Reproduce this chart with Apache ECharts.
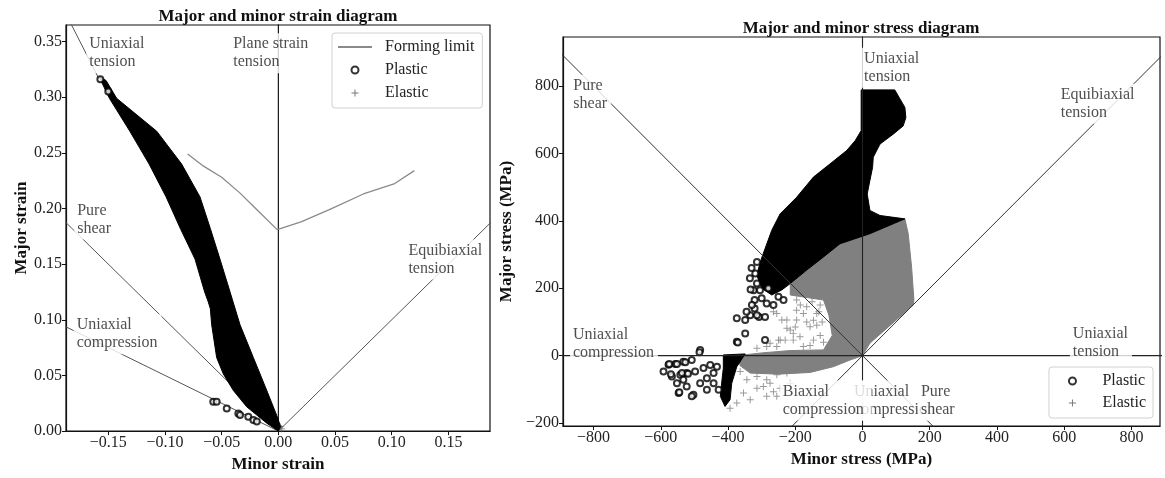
<!DOCTYPE html>
<html><head><meta charset="utf-8">
<script src="https://cdn.jsdelivr.net/npm/echarts@6/dist/echarts.min.js"></script>
<style>html,body{margin:0;padding:0;background:#fff}#c{width:1165px;height:478px}</style>
</head><body><div id="c"></div>
<script>
// ===================== STRAIN DIAGRAM (left) =====================
const strainTicksX = [-0.15, -0.10, -0.05, 0, 0.05, 0.10, 0.15];
const strainTicksY = [0, 0.05, 0.10, 0.15, 0.20, 0.25, 0.30, 0.35];

const formingLimitMinor = [-0.080, -0.066, -0.050, -0.034, -0.020, -0.001, 0.000, 0.020, 0.045, 0.075, 0.102, 0.120];
const formingLimitMajor = [0.249, 0.238, 0.228, 0.214, 0.200, 0.181, 0.180, 0.188, 0.199, 0.213, 0.222, 0.234];

// outline of the dense cloud of plastic points
const strainPlasticCloud = [
  [-0.158, 0.318], [-0.149, 0.2989], [-0.131, 0.2694], [-0.114, 0.2399], [-0.099, 0.2104],
  [-0.086, 0.181], [-0.0735, 0.1545], [-0.065, 0.125], [-0.0618, 0.116], [-0.0600, 0.110],
  [-0.0588, 0.0955], [-0.0544, 0.066], [-0.0485, 0.0513], [-0.0397, 0.0365], [-0.0279, 0.0218],
  [-0.0102, 0.0071], [0.000, 0.000], [0.002, 0.004], [-0.001, 0.013], [-0.0102, 0.0365],
  [-0.022, 0.066], [-0.0338, 0.0955], [-0.0426, 0.125], [-0.0515, 0.1545], [-0.060, 0.182],
  [-0.0691, 0.2104], [-0.0853, 0.2399], [-0.1073, 0.2694], [-0.1426, 0.2989], [-0.152, 0.315]
];
const strainPlasticPoints = [
  [-0.0574, 0.0263], [-0.0544, 0.0263], [-0.0455, 0.0203], [-0.0353, 0.0159], [-0.0338, 0.0144],
  [-0.0265, 0.013], [-0.022, 0.010], [-0.019, 0.0086], [-0.157, 0.316], [-0.150, 0.305]
];
const strainElasticPoints = [[0.0015, 0.004], [0.003, 0.002]];

const strainUniaxialTension = [[-0.159, 0.318], [-0.2, 0.4]];
const strainPlaneStrain = [[0, 0], [0, 0.4]];
const strainPureShear = [[0, 0], [-0.2, 0.2]];
const strainUniaxialCompression = [[0, 0], [-0.2, 0.1]];
const strainEquibiaxial = [[0, 0], [0.2, 0.2]];

const strainLabelTexts = ['Uniaxial\ntension', 'Plane strain\ntension', 'Pure\nshear', 'Uniaxial\ncompression', 'Equibiaxial\ntension'];
const strainLabelAnchors = [[-0.1694, 0.3574], [-0.0424, 0.3574], [-0.180, 0.2081], [-0.1805, 0.1049], [0.1121, 0.1721]];

// ===================== STRESS DIAGRAM (right) =====================
const stressTicksX = [-800, -600, -400, -200, 0, 200, 400, 600, 800];
const stressTicksY = [-200, 0, 200, 400, 600, 800];

const stressElasticCloud = [
  [126, 406], [136, 362], [146, 263], [153, 165], [151, 150], [22, 37], [0, 0],
  [-37, -13], [-87, -33], [-156, -50], [-250, -55], [-334, -52], [-364, -30], [-370, 0],
  [-300, 8], [-215, 15], [-116, 17], [-90, 60], [-100, 120], [-116, 165], [-215, 180],
  [-215, 214], [-140, 280], [-67, 332], [22, 362]
];
const stressPlasticCloud = [
  [-4, 789], [96, 789], [126, 737], [129, 707], [121, 682], [92, 658], [52, 628], [32, 589],
  [30, 559], [22, 520], [14, 480], [22, 431], [52, 416], [126, 406], [22, 362], [-67, 332],
  [-116, 293], [-166, 254], [-215, 214], [-240, 195], [-270, 180], [-300, 200], [-315, 240],
  [-300, 290], [-270, 372], [-245, 421], [-196, 470], [-146, 530], [-97, 569], [-47, 609],
  [-22, 638], [-4, 668]
];
const stressPlasticBlob = [
  [-414, 2], [-349, 5], [-374, -33], [-389, -82], [-394, -131], [-409, -151], [-423, -121],
  [-418, -72], [-414, -37]
];
const stressPlasticPoints = [
  [-314, 278], [-319, 244], [-314, 214], [-324, 194], [-305, 194], [-300, 170], [-285, 155], [-265, 150],
  [-333, 196], [-321, 165], [-321, 140], [-308, 115], [-374, 111], [-349, 106], [-334, 120], [-329, 150],
  [-314, 120], [-290, 115], [-349, 66], [-374, 41], [-290, 46], [-483, 17], [-371, 39], [-335, 230],
  [-330, 260], [-280, 200], [-250, 175], [-235, 165], [-345, 130],
  [-577, -27], [-557, -25], [-533, -18], [-508, -13], [-592, -47], [-567, -62], [-542, -57], [-523, -52],
  [-498, -47], [-473, -37], [-453, -28], [-547, -111], [-523, -92], [-503, -116], [-483, -82], [-463, -67],
  [-443, -52], [-433, -33], [-463, -101], [-443, -82], [-428, -101], [-533, -72], [-552, -82], [-570, -55],
  [-575, -25], [-552, -25], [-527, -20], [-545, -109], [-537, -52], [-519, -54], [-508, -121], [-485, 10]
];
const stressElasticPoints = [
  [-265, 130], [-240, 106], [-225, 81], [-206, 66], [-250, 46], [-230, 46], [-314, 22], [-285, 27],
  [-255, 27], [-255, 125], [-225, 106], [-215, 76], [-245, 46], [-275, 37], [-206, 46],
  [-364, -47], [-344, -72], [-314, -62], [-295, -92], [-275, -82], [-354, -111], [-334, -131], [-374, -141],
  [-394, -156], [-265, -107], [-245, -97], [-314, -97], [-285, -121], [-255, -121], [-225, -52], [-215, -82],
  [-285, -72], [-255, -57], [-225, -42], [-186, -37], [-156, -28], [-136, -23], [-106, -18],
  [-196, 165], [-166, 145], [-136, 125], [-196, 106], [-156, 86], [-186, 56], [-146, 46], [-176, 27],
  [-126, 150], [-176, 125], [-146, 105], [-126, 60], [-196, 135], [-166, 100], [-136, 90], [-116, 40],
  [-156, 30], [-120, 100], [-200, 85], [-185, 150], [-150, 160], [-130, 130]
];

const stressVerticalLine = [[0, -300], [0, 1000]];
const stressHorizontalLine = [[-1000, 0], [1000, 0]];
const stressEquibiaxialLine = [[-300, -300], [1000, 1000]];
const stressPureShearLine = [[-1000, 1000], [300, -300]];

const stressLabelTexts = ['Uniaxial\ntension', 'Pure\nshear', 'Equibiaxial\ntension', 'Uniaxial\ncompression',
  'Uniaxial\ntension', 'Uniaxial\ncompression', 'Biaxial\ncompression', 'Pure\nshear'];
const stressLabelAnchors = [[-4, 914], [-869, 834], [581, 807], [-870, 95], [617, 98], [-34, -74], [-246, -74], [165, -74]];

// ===================== BUILD =====================
const FONT = 'Liberation Serif';
const TXT = '#222';
const PLUS = 'path://M4.3,0h1.4v4.3h4.3v1.4h-4.3v4.3h-1.4v-4.3h-4.3v-1.4h4.3z';
const fmtNum = (d) => (v) => (v < 0 ? '\u2212' : '') + Math.abs(v).toFixed(d);
// label boxes that sit above the lower "Uniaxial compression" one (stress labels 6 and 7)
const LABEL_STYLE_OVERRIDES = { 6: { zlevel: 1, padding: [2, 8, 2, 3] }, 7: { zlevel: 1, padding: [2, 4, 2, 3] } };

function axisCommon(ticks, d) {
  return {
    type: 'value', splitLine: { show: false },
    axisLine: { show: true, onZero: false, lineStyle: { color: '#111', width: 1.2 } },
    axisTick: { show: true, length: 4, customValues: ticks, lineStyle: { color: '#111' } },
    axisLabel: { customValues: ticks, formatter: fmtNum(d), fontFamily: FONT, fontSize: 16, color: TXT, margin: 4 },
    nameTextStyle: { fontFamily: FONT, fontSize: 17, fontWeight: 'bold', color: '#111' }
  };
}
function polygon(name, gi, pts, fill, z) {
  return {
    type: 'custom', name, xAxisIndex: gi, yAxisIndex: gi, z, silent: true,
    data: [pts[0]],
    renderItem: (p, api) => ({ type: 'polygon', shape: { points: pts.map(q => api.coord(q)) },
      style: { fill, stroke: fill, lineWidth: 1 } })
  };
}
function refLine(gi, pts, color, w) {
  return { type: 'line', xAxisIndex: gi, yAxisIndex: gi, data: pts, symbol: 'none', silent: true, z: 5,
    lineStyle: { color, width: w }, clip: true };
}
function labels(gi, texts, anchors, zBase, overrides) {
  return texts.map((t, i) => {
    const o = (overrides && overrides[i]) || {};
    return {
      type: 'scatter', xAxisIndex: gi, yAxisIndex: gi, z: zBase + i, zlevel: o.zlevel || 0, silent: true,
      symbolSize: 0.1, itemStyle: { color: 'transparent' }, data: [anchors[i]],
      label: { show: true, formatter: t, position: [0, 0], align: 'left', verticalAlign: 'top',
        backgroundColor: '#fff', padding: o.padding || [2, 4, 2, 3], fontFamily: FONT, fontSize: 16, lineHeight: 18, color: TXT }
    };
  });
}

const xs = axisCommon(strainTicksX, 2), ys = axisCommon(strainTicksY, 2);
const xr = axisCommon(stressTicksX, 0), yr = axisCommon(stressTicksY, 0);
Object.assign(xs, { gridIndex: 0, min: -0.1873, max: 0.1867, name: 'Minor strain', nameLocation: 'middle', nameGap: 20 });
Object.assign(ys, { gridIndex: 0, min: 0, max: 0.3648, name: 'Major strain', nameLocation: 'middle', nameGap: 33 });
Object.assign(xr, { gridIndex: 1, min: -891, max: 885, name: 'Minor stress (MPa)', nameLocation: 'middle', nameGap: 20 });
Object.assign(yr, { gridIndex: 1, min: -209, max: 946, name: 'Major stress (MPa)', nameLocation: 'middle', nameGap: 31 });

const plasticStyle = { color: '#000', borderColor: '#000', borderWidth: 1 };
const series = [
  { type: 'scatter', name: 'Plastic', xAxisIndex: 0, yAxisIndex: 0, z: 3, symbol: 'emptyCircle', symbolSize: 6,
    itemStyle: plasticStyle, data: strainPlasticPoints },
  { type: 'scatter', name: 'Elastic', xAxisIndex: 0, yAxisIndex: 0, z: 2, symbol: PLUS, symbolSize: 7,
    itemStyle: { color: '#555' }, data: strainElasticPoints },
  { type: 'line', name: 'Forming limit', xAxisIndex: 0, yAxisIndex: 0, z: 4, symbol: 'none',
    itemStyle: { color: '#8a8a8a' },
    lineStyle: { color: '#8a8a8a', width: 1.3 }, data: formingLimitMinor.map((x, i) => [x, formingLimitMajor[i]]) },
  Object.assign(refLine(0, strainUniaxialTension, '#555', 1), { z: 1 }),
  Object.assign(refLine(0, strainPureShear, '#555', 1), { z: 1 }),
  Object.assign(refLine(0, strainUniaxialCompression, '#555', 1), { z: 1 }),
  Object.assign(refLine(0, strainEquibiaxial, '#555', 1), { z: 1 }),
  Object.assign(refLine(0, strainPlaneStrain, '#000', 1.1), { z: 1 }),
  polygon('Plastic', 0, strainPlasticCloud, '#000', 3),

  { type: 'scatter', name: 'Plastic', xAxisIndex: 1, yAxisIndex: 1, z: 4, symbol: 'emptyCircle', symbolSize: 6,
    itemStyle: plasticStyle, data: stressPlasticPoints },
  { type: 'scatter', name: 'Elastic', xAxisIndex: 1, yAxisIndex: 1, z: 2, symbol: PLUS, symbolSize: 7,
    itemStyle: { color: '#808080' }, data: stressElasticPoints },
  polygon('Elastic', 1, stressElasticCloud, '#808080', 2),
  polygon('Plastic', 1, stressPlasticCloud, '#000', 3),
  polygon('Plastic', 1, stressPlasticBlob, '#000', 3),
  refLine(1, stressVerticalLine, '#222', 1.1),
  refLine(1, stressHorizontalLine, '#222', 1.3),
  refLine(1, stressEquibiaxialLine, '#333', 1),
  refLine(1, stressPureShearLine, '#333', 1)
].concat(labels(0, strainLabelTexts, strainLabelAnchors, 20))
 .concat(labels(1, stressLabelTexts, stressLabelAnchors, 30, LABEL_STYLE_OVERRIDES));

const legendText = { fontFamily: FONT, fontSize: 16, lineHeight: 16, color: TXT };
const option = {
  animation: false,
  backgroundColor: '#fff',
  title: [
    { text: 'Major and minor strain diagram', left: 278, top: 8, textAlign: 'center', padding: 0,
      textStyle: { fontFamily: FONT, fontSize: 17, fontWeight: 'bold', color: '#111' } },
    { text: 'Major and minor stress diagram', left: 861, top: 20, textAlign: 'center', padding: 0,
      textStyle: { fontFamily: FONT, fontSize: 17, fontWeight: 'bold', color: '#111' } }
  ],
  grid: [
    { left: 66, top: 25, width: 424, height: 413, show: true, borderColor: '#111', borderWidth: 1.2, backgroundColor: 'transparent' },
    { left: 563, top: 37, width: 597, height: 389, show: true, borderColor: '#111', borderWidth: 1.2, backgroundColor: 'transparent' }
  ],
  xAxis: [xs, xr],
  yAxis: [ys, yr],
  legend: [
    { data: [{ name: 'Forming limit', itemStyle: { color: 'rgba(0,0,0,0)', borderWidth: 0, borderColor: 'rgba(0,0,0,0)' } }, 'Plastic', 'Elastic'],
      orient: 'vertical', left: 332, top: 33,
      padding: [6, 8, 7, 5], itemGap: 7, itemWidth: 34, itemHeight: 7, backgroundColor: '#fff',
      borderColor: '#d0d0d0', borderWidth: 1, borderRadius: 3, selectedMode: false,
      formatter: (n) => '\u2002' + n, textStyle: legendText },
    { data: ['Plastic', 'Elastic'], orient: 'vertical', right: 12, top: 367,
      padding: [6, 7, 7, 19], itemGap: 6, itemWidth: 34, itemHeight: 7, backgroundColor: '#fff',
      borderColor: '#d0d0d0', borderWidth: 1, borderRadius: 3, selectedMode: false,
      formatter: (n) => '\u2002' + n, textStyle: legendText }
  ],
  series
};
const chart = echarts.init(document.getElementById('c'), null, { renderer: 'canvas' });
chart.setOption(option);
</script></body></html>
